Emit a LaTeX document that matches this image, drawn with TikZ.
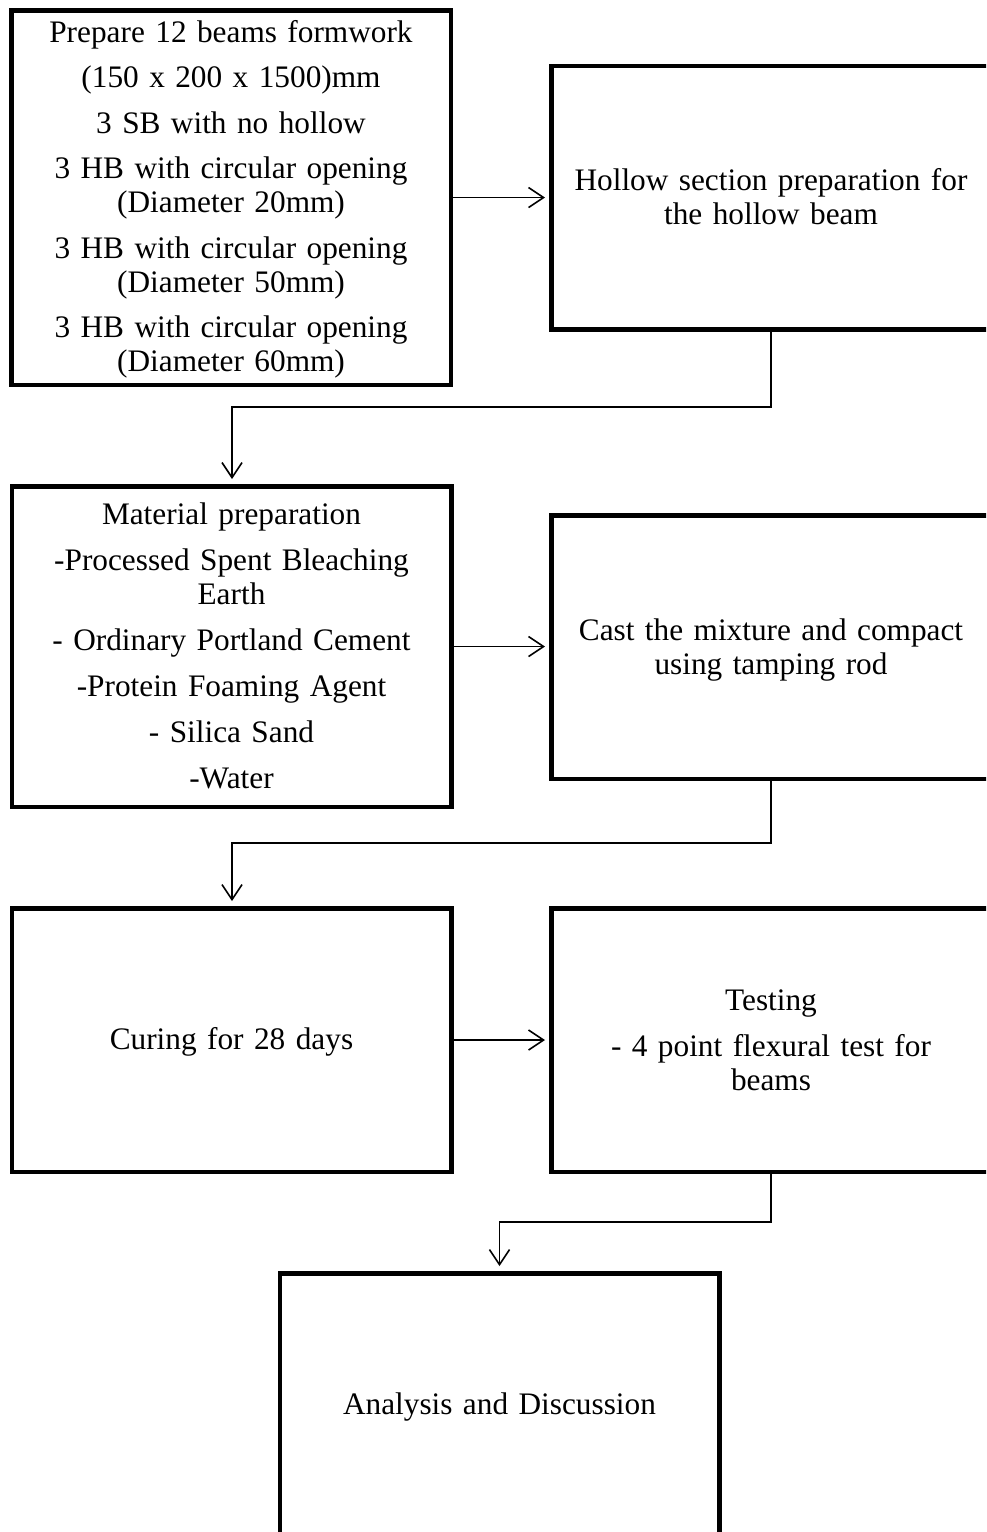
\documentclass[tikz,border=0pt]{standalone}
\usepackage{fontspec}
\setmainfont{Liberation Serif}
\usetikzlibrary{arrows.meta}
\begin{document}
\begin{tikzpicture}[x=1pt,y=-1pt,
  box/.style={draw, line width=4.5pt, rectangle, minimum width=439.5pt, inner sep=0pt},
  txt/.style={anchor=base, align=center, text width=438pt, inner sep=0pt, font=\fontsize{31.3}{34}\selectfont},
  conn/.style={line width=1.6pt, -{Straight Barb[length=15pt,width=20pt]}, shorten >=5pt},
]
\useasboundingbox (0,0) rectangle (986,1532);
\clip (0,0) rectangle (986,1532);
% boxes
\node[box, minimum height=374.5pt] (b1) at (231,197.5) {};
\node[box, minimum height=263.5pt] (b2) at (771,197.5) {};
\node[box, minimum height=320.5pt] (b3) at (231.5,646.5) {};
\node[box, minimum height=263.5pt] (b4) at (771,647) {};
\node[box, minimum height=263.5pt] (b5) at (231.5,1040) {};
\node[box, minimum height=263.5pt] (b6) at (771,1040) {};
\node[box, minimum height=263.5pt] (b7) at (499.5,1405) {};
% texts
\node[txt] (t1) at (231,42) {Prepare 12 beams formwork\\[11.5pt](150 x 200 x 1500)mm\\[11.5pt]3 SB with no hollow\\[11.5pt]3 HB with circular opening\\(Diameter 20mm)\\[11.5pt]3 HB with circular opening\\(Diameter 50mm)\\[11.5pt]3 HB with circular opening\\(Diameter 60mm)};
\node[txt] (t2) at (771,190.5) {Hollow section preparation for\\the hollow beam};
\node[txt] (t3) at (231.5,524) {Material preparation\\[12pt]-Processed Spent Bleaching\\Earth\\[12pt]- Ordinary Portland Cement\\[12pt]-Protein Foaming Agent\\[12pt]- Silica Sand\\[12pt]-Water};
\node[txt] (t4) at (771,640) {Cast the mixture and compact\\using tamping rod};
\node[txt] (t5) at (231.5,1049) {Curing for 28 days};
\node[txt] (t6) at (771,1010) {Testing\\[12pt]- 4 point flexural test for\\beams};
\node[txt] (t7) at (499.5,1414) {Analysis and Discussion};
% junctions
\coordinate (j1) at (232,407);
\coordinate (j2) at (232,843);
\coordinate (j3) at (499.5,1222);
% connectors
\draw[conn, shorten >=4pt] (b1.east) -- (b1.east -| b2.west);
\draw[conn, shorten >=4pt] (b3.east) -- (b3.east -| b4.west);
\draw[conn, shorten >=4pt] (b5.east) -- (b5.east -| b6.west);
\draw[conn] (b2.south) |- (j1) -- (j1 |- b3.north);
\draw[conn] (b4.south) |- (j2) -- (j2 |- b5.north);
\draw[conn] (b6.south) |- (j3) -- (j3 |- b7.north);
\end{tikzpicture}
\end{document}
